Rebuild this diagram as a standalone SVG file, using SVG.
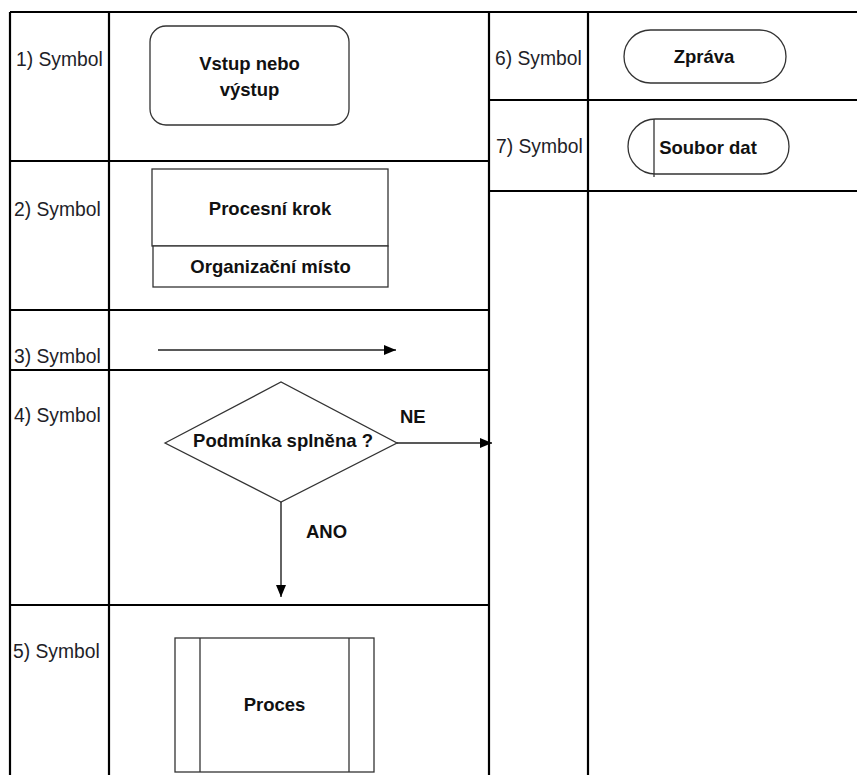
<svg xmlns="http://www.w3.org/2000/svg" width="857" height="775" viewBox="0 0 857 775">
  <defs>
    <marker id="arrow" markerUnits="userSpaceOnUse" markerWidth="12" markerHeight="10" refX="12" refY="5" orient="auto">
      <path d="M0,0 L12,5 L0,10 z" fill="#000"/>
    </marker>
    <style>
      .grid { stroke: #000; stroke-width: 2.2; fill: none; }
      .shape { stroke: #333; stroke-width: 1.3; fill: #fff; }
      .conn { stroke: #222; stroke-width: 1.4; fill: none; marker-end: url(#arrow); }
      .label { font-family: "Liberation Sans", Arial, sans-serif; font-size: 19.3px; fill: #1e1e28; }
      .bold { font-family: "Liberation Sans", Arial, sans-serif; font-size: 18.5px; font-weight: bold; fill: #111; text-anchor: middle; }
      .tag { font-family: "Liberation Sans", Arial, sans-serif; font-size: 18.5px; font-weight: bold; fill: #111; }
    </style>
  </defs>
  <rect width="857" height="775" fill="#fff"/>

  <!-- table grid -->
  <g id="grid" class="grid">
    <line x1="10" y1="12" x2="857" y2="12"/>
    <line x1="10" y1="12" x2="10" y2="775"/>
    <line x1="109" y1="12" x2="109" y2="775"/>
    <line x1="489" y1="12" x2="489" y2="775"/>
    <line x1="588" y1="12" x2="588" y2="775"/>
    <line x1="10" y1="161" x2="489" y2="161"/>
    <line x1="10" y1="310" x2="489" y2="310"/>
    <line x1="10" y1="370" x2="489" y2="370"/>
    <line x1="10" y1="605" x2="489" y2="605"/>
    <line x1="489" y1="100" x2="857" y2="100"/>
    <line x1="489" y1="191" x2="857" y2="191"/>
  </g>

  <!-- row labels -->
  <g id="labels">
    <text class="label" x="16" y="65.5">1) Symbol</text>
    <text class="label" x="14" y="216">2) Symbol</text>
    <text class="label" x="14" y="362.5">3) Symbol</text>
    <text class="label" x="14" y="421.5">4) Symbol</text>
    <text class="label" x="13" y="658">5) Symbol</text>
    <text class="label" x="495" y="65">6) Symbol</text>
    <text class="label" x="496" y="153">7) Symbol</text>
  </g>

  <!-- 1) input / output -->
  <g id="node-io">
    <rect class="shape" x="150" y="26" width="199" height="99" rx="16" ry="16"/>
    <text class="bold" x="249.5" y="70">Vstup nebo</text>
    <text class="bold" x="249.5" y="96">výstup</text>
  </g>

  <!-- 2) process step with organisational unit -->
  <g id="node-step">
    <rect class="shape" x="152" y="169" width="236" height="77"/>
    <rect class="shape" x="153" y="246" width="235" height="41"/>
    <text class="bold" x="270" y="215">Procesní krok</text>
    <text class="bold" x="270.5" y="273">Organizační místo</text>
  </g>

  <!-- 4) decision -->
  <g id="node-decision">
    <polygon class="shape" points="165,443 281,382 397,443 281,502"/>
    <text class="bold" x="283" y="447">Podmínka splněna ?</text>
    <text class="tag" x="400" y="423">NE</text>
    <text class="tag" x="306" y="538">ANO</text>
  </g>

  <!-- 5) predefined process -->
  <g id="node-process">
    <rect class="shape" x="175" y="638" width="199" height="134"/>
    <line class="shape" x1="200" y1="638" x2="200" y2="772"/>
    <line class="shape" x1="349" y1="638" x2="349" y2="772"/>
    <text class="bold" x="274.5" y="711">Proces</text>
  </g>

  <!-- 6) message -->
  <g id="node-message">
    <rect class="shape" x="624" y="30" width="162" height="53" rx="26.5" ry="26.5"/>
    <text class="bold" x="704" y="63">Zpráva</text>
  </g>

  <!-- 7) data file -->
  <g id="node-datafile">
    <rect class="shape" x="628" y="119" width="161" height="55" rx="27.5" ry="27.5"/>
    <line class="shape" x1="654" y1="119" x2="654" y2="177"/>
    <text class="bold" x="708" y="154">Soubor dat</text>
  </g>

  <!-- connectors -->
  <g id="connectors">
    <line class="conn" x1="158" y1="350" x2="396" y2="350"/>
    <line class="conn" x1="397" y1="443" x2="492" y2="443"/>
    <line class="conn" x1="281" y1="502" x2="281" y2="597"/>
  </g>
</svg>
